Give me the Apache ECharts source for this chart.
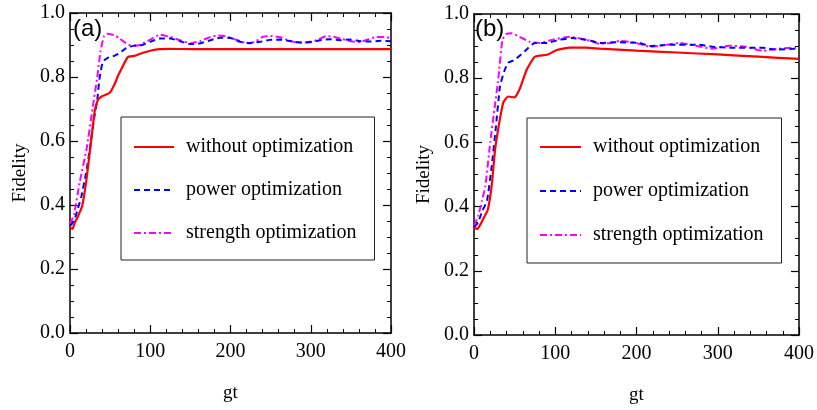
<!DOCTYPE html>
<html>
<head>
<meta charset="utf-8">
<script src="https://cdn.jsdelivr.net/npm/echarts@6/dist/echarts.min.js"></script>
<style>
  html, body { margin: 0; padding: 0; background: #fff; }
  #chart { width: 817px; height: 410px; }
</style>
</head>
<body>
<div id="chart"></div>
<script>
// series names
const names = ['without optimization', 'power optimization', 'strength optimization']
const xTicks = [0, 100, 200, 300, 400]
const yTicks = [0, 0.2, 0.4, 0.6, 0.8, 1.0]

// panel (a)
const tRedA = [0,3,6,10,15,20,25,31,35,40,45,50,56,60,65,72,80,90,100,112,125,150,200,250,300,350,400]
const redA = [0.33,0.325,0.345,0.365,0.395,0.47,0.572,0.697,0.73,0.74,0.745,0.752,0.78,0.805,0.83,0.862,0.866,0.875,0.882,0.887,0.888,0.887,0.887,0.887,0.887,0.887,0.887]
const tBlueA = [0,5,10,14,20,25,30,34,37,41,47,55,62,70,80,90,100,112,125,137,150,162,175,187,200,212,224,237,249,262,275,287,300,312,324,337,349,362,374,387,400]
const blueA = [0.335,0.35,0.39,0.425,0.5,0.58,0.67,0.73,0.8,0.848,0.86,0.866,0.875,0.89,0.898,0.9,0.91,0.92,0.92,0.912,0.903,0.905,0.915,0.923,0.922,0.91,0.906,0.91,0.916,0.917,0.912,0.908,0.91,0.915,0.918,0.915,0.917,0.912,0.911,0.913,0.912]
const tMagA = [0,5,12,21,28,34,38,42,46,56,62,69,77,87,100,112,125,137,150,162,175,184,194,203,214,224,232,240,252,262,272,283,299,310,320,330,340,350,361,372,382,392,400]
const magA = [0.34,0.37,0.47,0.58,0.7,0.8,0.88,0.925,0.935,0.93,0.92,0.907,0.897,0.9,0.917,0.932,0.925,0.915,0.905,0.912,0.925,0.93,0.927,0.92,0.91,0.905,0.912,0.925,0.928,0.924,0.915,0.908,0.908,0.918,0.928,0.925,0.918,0.912,0.909,0.918,0.925,0.925,0.922]

// panel (b)
const tRedB = [0,4,8,12,17,22,26,31,36,42,50,56,65,75,90,102,118,138,155,200,250,300,350,400]
const redB = [0.335,0.33,0.345,0.365,0.39,0.47,0.579,0.66,0.724,0.743,0.74,0.765,0.827,0.867,0.873,0.888,0.895,0.895,0.892,0.886,0.88,0.874,0.867,0.86]
const tBlueB = [0,5,10,16,22,27,32,37,42,50,62,75,90,105,121,138,155,175,204,216,240,277,293,318,355,372,396,400]
const blueB = [0.335,0.35,0.385,0.418,0.53,0.65,0.775,0.82,0.848,0.857,0.883,0.91,0.91,0.92,0.925,0.92,0.91,0.912,0.91,0.9,0.904,0.904,0.898,0.895,0.895,0.889,0.892,0.89]
const tMagB = [0,5,10,14,20,25,30,35,40,46,56,69,81,97,118,138,155,168,179,200,216,237,253,273,293,314,335,355,375,396,400]
const magB = [0.34,0.37,0.42,0.464,0.6,0.7,0.8,0.92,0.938,0.94,0.929,0.913,0.91,0.92,0.929,0.92,0.907,0.91,0.916,0.91,0.898,0.904,0.91,0.901,0.892,0.901,0.898,0.885,0.892,0.895,0.893]

const pairs = (t, v) => t.map((x, i) => [x, v[i]])

const serif = 'Liberation Serif'
const styles = [
    { color: '#ff0000', width: 2.2, type: 'solid' },
    { color: '#0000ff', width: 2, type: [6, 4] },
    { color: '#ff00ff', width: 2, type: [7, 3, 2, 3] }
]

function makeSeries(idx, data) {
    return data.map((d, i) => ({
        name: names[i],
        type: 'line',
        xAxisIndex: idx * 2,
        yAxisIndex: idx * 2,
        showSymbol: false,
        smooth: 0.15,
        z: 3 - i,
        lineStyle: styles[i],
        itemStyle: { color: styles[i].color },
        data: d
    }))
}

// bottom / left axes with labels, top / right axes only for the frame ticks
function xAxes(grid) {
    const common = {
        type: 'value', gridIndex: grid, min: xTicks[0], max: xTicks[xTicks.length - 1], interval: 100,
        axisLine: { onZero: false, lineStyle: { color: '#000', width: 1.5 } },
        axisTick: { inside: true, length: 8, lineStyle: { color: '#000', width: 1.2 } },
        minorTick: { show: true, splitNumber: 5, length: 4, lineStyle: { color: '#000', width: 1 } },
        splitLine: { show: false }
    }
    return [
        Object.assign({}, common, {
            position: 'bottom',
            name: 'gt', nameLocation: 'middle', nameGap: 51,
            nameTextStyle: { fontFamily: serif, fontSize: 19, color: '#000' },
            axisLabel: { margin: 9, fontFamily: serif, fontSize: 20, color: '#000' }
        }),
        Object.assign({}, common, { position: 'top', axisLabel: { show: false } })
    ]
}

function yAxes(grid) {
    const common = {
        type: 'value', gridIndex: grid, min: yTicks[0], max: yTicks[yTicks.length - 1], interval: 0.2,
        axisLine: { onZero: false, lineStyle: { color: '#000', width: 1.5 } },
        axisTick: { inside: true, length: 8, lineStyle: { color: '#000', width: 1.2 } },
        minorTick: { show: true, splitNumber: 4, length: 4, lineStyle: { color: '#000', width: 1 } },
        splitLine: { show: false }
    }
    return [
        Object.assign({}, common, {
            position: 'left',
            name: 'Fidelity', nameLocation: 'middle', nameGap: 40,
            nameTextStyle: { fontFamily: serif, fontSize: 19, color: '#000' },
            axisLabel: { margin: 5, fontFamily: serif, fontSize: 20, color: '#000', formatter: v => v.toFixed(1) }
        }),
        Object.assign({}, common, { position: 'right', axisLabel: { show: false } })
    ]
}

function legendBox(left, top, padding, gap, w) {
    return {
        left, top, orient: 'vertical', padding, itemGap: gap,
        itemWidth: w, itemHeight: 20,
        borderColor: '#222', borderWidth: 1, borderRadius: 0,
        selectedMode: false,
        // hide the marker dot, keep only the line
        itemStyle: { opacity: 0 },
        data: names,
        textStyle: { fontFamily: serif, fontSize: 20, color: '#000', padding: [0, 0, 0, 7] }
    }
}

const chart = echarts.init(document.getElementById('chart'))
const option = {
    animation: false,
    backgroundColor: '#fff',
    grid: [
        { left: 70, width: 321, top: 13, height: 320 },
        { left: 474, width: 326, top: 14, height: 323 }
    ],
    xAxis: [...xAxes(0), ...xAxes(1)],
    yAxis: [...yAxes(0), ...yAxes(1)],
    legend: [
        legendBox(121, 117, [20, 18, 17, 12], 23, 40),
        legendBox(527, 118, [19, 18, 18, 12], 24, 41)
    ],
    graphic: [
        { type: 'text', left: 73, top: 17, style: { text: '(a)', font: '24px "Liberation Sans"', fill: '#000' } },
        { type: 'text', left: 475, top: 17, style: { text: '(b)', font: '24px "Liberation Sans"', fill: '#000' } }
    ],
    series: [
        ...makeSeries(0, [pairs(tRedA, redA), pairs(tBlueA, blueA), pairs(tMagA, magA)]),
        ...makeSeries(1, [pairs(tRedB, redB), pairs(tBlueB, blueB), pairs(tMagB, magB)])
    ]
}
chart.setOption(option)
window.addEventListener('resize', () => {
    chart.resize()
})
</script>
</body>
</html>
